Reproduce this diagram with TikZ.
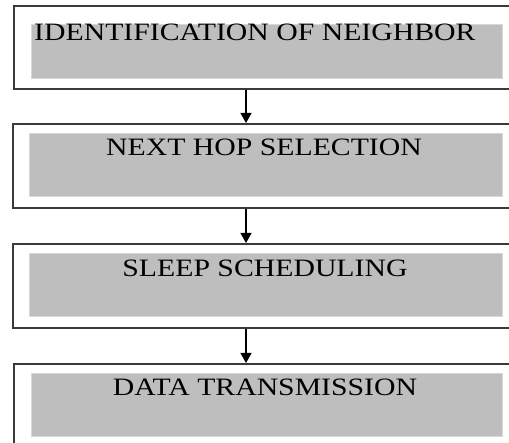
\documentclass[tikz,border=0pt]{standalone}
\usepackage{fontspec}
\setmainfont{Liberation Serif}
\usetikzlibrary{arrows.meta}
\definecolor{boxline}{HTML}{3A3A3A}
\definecolor{graybg}{HTML}{BEBEBE}
\tikzset{
  outerbox/.style={draw=boxline, line width=1.6pt, fill=white, anchor=north west, inner sep=0pt, minimum width=#1},
  grayband/.style={fill=graybg, draw=graybg!60!white, line width=0.5pt, anchor=north west, inner sep=0pt, minimum width=471pt, minimum height=54pt},
  steptext/.style={font=\fontsize{25}{30}\selectfont, text=black, inner sep=0pt, xscale=1.19},
  flowarrow/.style={draw=black, line width=1.3pt, -{Triangle[length=10pt,width=11pt]}}
}
\begin{document}
\begin{tikzpicture}[x=1pt,y=-1pt]
\useasboundingbox (0,0) rectangle (509,443);
\clip (0,0) rectangle (509,443);
\coordinate (ax) at (246,0);
% boxes
\node[outerbox=503pt, minimum height=83pt] (b1) at (13,5) {};
\node[outerbox=504pt, minimum height=84pt] (b2) at (12,123) {};
\node[outerbox=504pt, minimum height=84pt] (b3) at (12,243) {};
\node[outerbox=503pt, minimum height=100pt] (b4) at (13,363) {};
% gray bands
\node[grayband] (g1) at (31,24) {};
\node[grayband, minimum width=473pt, minimum height=63pt] (g2) at (29,133) {};
\node[grayband, minimum width=473pt, minimum height=63pt] (g3) at (29,253) {};
\node[grayband, minimum height=63pt] (g4) at (31,373) {};
% texts
\node[steptext, anchor=base west] (t1) at (34,41) {IDENTIFICATION OF NEIGHBOR};
\node[steptext, anchor=base] (t2) at (264,156) {NEXT HOP SELECTION};
\node[steptext, anchor=base] (t3) at (265,277) {SLEEP SCHEDULING};
\node[steptext, anchor=base] (t4) at (265,396) {DATA TRANSMISSION};
% arrows
\draw[flowarrow] (b1.south -| ax) -- (b2.north -| ax);
\draw[flowarrow] (b2.south -| ax) -- (b3.north -| ax);
\draw[flowarrow] (b3.south -| ax) -- (b4.north -| ax);
\end{tikzpicture}
\end{document}
